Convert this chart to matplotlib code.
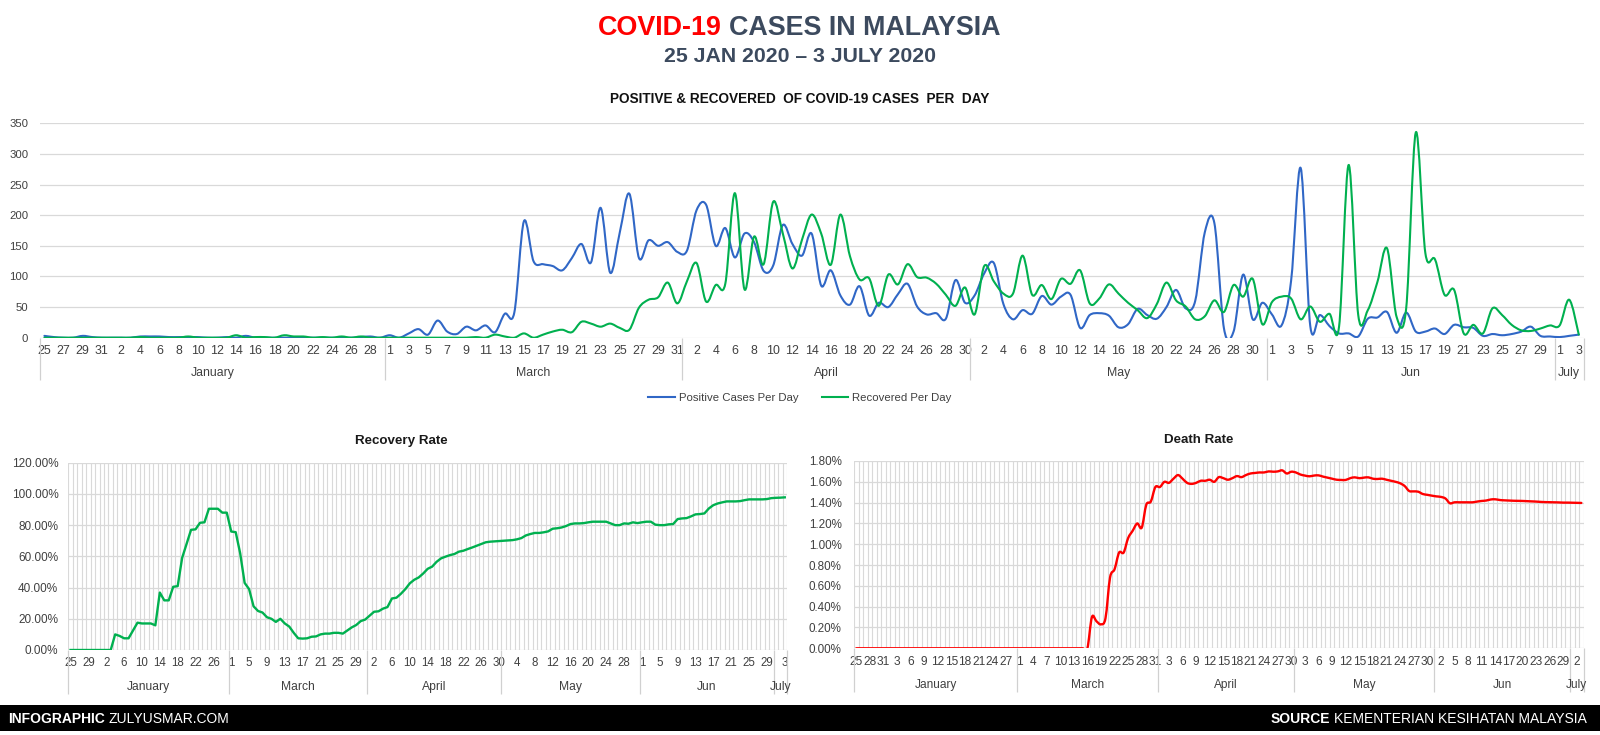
import numpy as np
import pandas as pd
import matplotlib
matplotlib.use("Agg")
import matplotlib.pyplot as plt
from matplotlib.path import Path
from matplotlib.patches import PathPatch, Rectangle
from matplotlib.lines import Line2D
import matplotlib.ticker as mticker

plt.rcParams['font.family'] = ['Liberation Sans', 'DejaVu Sans']

# ---------------- data ----------------
start_date = "2020-01-25"
end_date = "2020-07-03"
month_groups = ["January", "March", "April", "May", "Jun", "July"]
month_group_sizes = [36, 31, 30, 31, 30, 3]

pos_jan = [3, 1, 0, 0, 3, 1, 0]
pos_feb = [0, 0, 0, 2, 2, 2, 1, 1, 1, 1,
           0, 0, 1, 0, 3, 0, 0, 0, 0, 0,
           0, 0, 0, 0, 0, 0, 1, 2, 0]
pos_mar = [4, 0, 7, 14, 5, 28, 10, 6, 18, 12,
           20, 9, 39, 41, 190, 125, 120, 117, 110, 130,
           153, 123, 212, 106, 172, 235, 130, 159, 150, 156, 140]
pos_apr = [142, 208, 217, 150, 179, 131, 170, 156, 109, 118,
           184, 153, 134, 170, 85, 110, 69, 54, 84, 36,
           57, 50, 71, 88, 51, 38, 40, 31, 94, 57]
pos_may = [69, 105, 122, 55, 30, 45, 39, 68, 54, 67,
           70, 16, 37, 40, 36, 17, 22, 47, 37, 31,
           50, 78, 48, 60, 172, 187, 15, 10, 103, 30, 57]
pos_jun = [38, 20, 93, 277, 19, 37, 19, 7, 7, 2,
           31, 33, 42, 8, 41, 10, 10, 15, 6, 21,
           17, 16, 3, 6, 4, 6, 10, 18, 3, 2]
pos_jul = [1, 3, 5]
positive = pos_jan + pos_feb + pos_mar + pos_apr + pos_may + pos_jun + pos_jul

rec_jan = [0, 0, 0, 0, 0, 0, 0]
rec_feb = [0, 0, 0, 1, 0, 0, 0, 0, 2, 0,
           0, 0, 0, 4, 0, 1, 1, 0, 4, 2,
           2, 0, 1, 0, 2, 0, 2, 0, 0]
rec_mar = [0, 0, 0, 0, 0, 0, 0, 0, 0, 1,
           0, 5, 2, 0, 7, 0, 5, 10, 13, 9,
           26, 23, 18, 23, 16, 13, 49, 62, 66, 90, 56]
rec_apr = [92, 122, 59, 86, 88, 236, 79, 165, 120, 222,
           170, 113, 160, 201, 170, 119, 201, 133, 95, 97,
           52, 103, 87, 120, 99, 98, 88, 70, 52, 82]
rec_may = [38, 117, 92, 72, 72, 134, 70, 86, 63, 96,
           88, 110, 56, 64, 87, 72, 57, 45, 32, 55,
           90, 61, 51, 30, 35, 61, 42, 86, 67, 96, 22]
rec_jun = [58, 67, 64, 30, 51, 26, 39, 18, 282, 37,
           45, 91, 146, 34, 48, 335, 138, 128, 70, 78,
           7, 21, 7, 48, 37, 21, 12, 11, 15, 20]
rec_jul = [20, 62, 5]
recovered = rec_jan + rec_feb + rec_mar + rec_apr + rec_may + rec_jun + rec_jul

recovery_rate_pct = [0, 0, 0, 0, 0, 0, 0, 0, 0, 0,
                     10, 9, 7.5, 7.5, 12.5, 17.5, 17, 17, 17, 15.8,
                     36.8, 31.8, 31.8, 40.5, 40.9, 59, 68, 77, 77.3, 81.5,
                     81.8, 90.5, 90.5, 90.5, 88, 88, 75.9, 75.5, 62, 43,
                     39, 28, 25, 24, 21, 20, 18, 20, 17, 15,
                     11, 7.5, 7.3, 7.5, 8.5, 8.7, 10, 10.5, 10.5, 11,
                     11, 10.5, 12.5, 14.5, 16, 18.5, 19.5, 22, 24.5, 24.8,
                     26.5, 27.5, 33, 33.5, 36, 39, 42.7, 45, 46.5, 49,
                     52, 53.4, 56.5, 58.7, 59.8, 60.8, 61.5, 63, 63.6, 64.7,
                     65.7, 66.8, 67.9, 69, 69.4, 69.6, 69.8, 70, 70.2, 70.4,
                     70.9, 71.7, 73.4, 74.3, 75, 75, 75.4, 76, 77.7, 78,
                     78.5, 79.4, 80.7, 81.1, 81.1, 81.3, 81.8, 82.2, 82.2, 82.2,
                     82.2, 81.1, 80, 80, 81.1, 80.9, 81.8, 81.3, 81.8, 82.2,
                     82.2, 80.3, 80, 80, 80.5, 80.7, 83.9, 84.3, 84.5, 85.6,
                     86.9, 87.1, 87.5, 90.7, 92.8, 93.9, 94.6, 95.2, 95.2, 95.2,
                     95.4, 96, 96.5, 96.5, 96.5, 96.5, 96.7, 97.3, 97.5, 97.6, 97.8]

death_rate_pct = [0] * 52 + [
    0.30, 0.26, 0.23, 0.29, 0.68, 0.76, 0.92, 0.92,
    1.06, 1.13, 1.20, 1.16, 1.38, 1.41, 1.55, 1.55, 1.60, 1.59,
    1.63, 1.665, 1.63, 1.59, 1.58, 1.59, 1.61, 1.61, 1.62, 1.60,
    1.645, 1.635, 1.62, 1.635, 1.655, 1.645, 1.665, 1.68, 1.685, 1.69,
    1.69, 1.70, 1.697, 1.70, 1.71, 1.68, 1.697, 1.69, 1.67, 1.66,
    1.653, 1.66, 1.662, 1.65, 1.64, 1.63, 1.62, 1.618, 1.618, 1.635,
    1.643, 1.635, 1.64, 1.643, 1.63, 1.627, 1.63, 1.62, 1.61, 1.60,
    1.586, 1.56, 1.512, 1.508, 1.505, 1.483, 1.475, 1.467, 1.46, 1.455,
    1.44, 1.394, 1.403, 1.403, 1.403, 1.403, 1.403, 1.41, 1.416, 1.42,
    1.43, 1.432, 1.425, 1.422, 1.42, 1.418, 1.417, 1.416, 1.414, 1.412,
    1.41, 1.407, 1.405, 1.404, 1.403, 1.402, 1.40, 1.40, 1.399, 1.398, 1.397]

# ---------------- style ----------------
BLUE = '#3067c6'
GREEN = '#00b04f'
RED = '#ff0000'
TITLE_C = '#3c4a5e'
TXT = '#404040'
GRID = '#d9d9d9'
SEP = '#d0d0d0'

dates = pd.date_range(start_date, end_date, freq="D")
day_labels = [str(d.day) for d in dates]
n = len(dates)
x = np.arange(n)
for nm, arr in [("positive", positive), ("recovered", recovered),
                ("recovery", recovery_rate_pct), ("death", death_rate_pct)]:
    if len(arr) != n:
        raise ValueError(f"{nm} has {len(arr)} values, expected {n}")

W, H = 1600, 735
fig = plt.figure(figsize=(16, 7.35), dpi=100)
fig.patch.set_facecolor('white')


def fax(l, t, r, b):
    return fig.add_axes([l / W, 1 - b / H, (r - l) / W, (b - t) / H])


def smooth_path(xs, ys):
    pts = np.column_stack([np.asarray(xs, float), np.asarray(ys, float)])
    ext = np.vstack([pts[0], pts, pts[-1]])
    verts = [pts[0]]
    codes = [Path.MOVETO]
    for i in range(len(pts) - 1):
        p0, p1, p2, p3 = ext[i], ext[i + 1], ext[i + 2], ext[i + 3]
        verts += [p1 + (p2 - p0) / 6.0, p2 - (p3 - p1) / 6.0, p2]
        codes += [Path.CURVE4] * 3
    return Path(verts, codes)


def category_axis(ax, step, tick_fs, month_fs, tick_pad_px, month_off_px, sep_px, ax_h_px):
    ax.set_xlim(-0.5, n - 0.5)
    ticks = x[::step]
    ax.set_xticks(ticks)
    ax.set_xticklabels([day_labels[i] for i in ticks], fontsize=tick_fs, color=TXT)
    ax.tick_params(axis='x', which='major', length=0, pad=tick_pad_px * 0.72)
    bounds = np.concatenate([[0], np.cumsum(month_group_sizes)]) - 0.5
    trans = ax.get_xaxis_transform()
    for b in bounds:
        ax.plot([b, b], [0, -sep_px / ax_h_px], transform=trans, color=SEP, lw=0.9,
                clip_on=False, solid_capstyle='butt')
    for name, lo, hi in zip(month_groups, bounds[:-1], bounds[1:]):
        ax.text((lo + hi) / 2, -month_off_px / ax_h_px, name, transform=trans,
                ha='center', va='center', fontsize=month_fs, color=TXT)


# ---------------- top chart ----------------
ax1 = fax(39.6, 123.3, 1583.6, 337.7)
for s in ax1.spines.values():
    s.set_visible(False)
ax1.set_ylim(0, 350)
ax1.set_yticks(np.arange(0, 351, 50))
ax1.yaxis.grid(True, color=GRID, lw=0.9)
ax1.set_axisbelow(True)
ax1.tick_params(axis='y', length=0, pad=11.4 * 0.72, labelsize=8.2, labelcolor=TXT)
category_axis(ax1, 2, 8.9, 8.8, 7.6, 35.5, 42, 214.4)
ax1.add_patch(PathPatch(smooth_path(x, positive), fill=False, edgecolor=BLUE, lw=1.5,
                        joinstyle='round', capstyle='round'))
ax1.add_patch(PathPatch(smooth_path(x, recovered), fill=False, edgecolor=GREEN, lw=1.5,
                        joinstyle='round', capstyle='round'))

fig.legend(handles=[Line2D([], [], color=BLUE, lw=1.5), Line2D([], [], color=GREEN, lw=1.5)],
           labels=["Positive Cases Per Day", "Recovered Per Day"],
           loc='center', bbox_to_anchor=(0.5, 1 - 398 / H), ncol=2, frameon=False,
           fontsize=8.2, handlelength=2.3, handletextpad=0.4, columnspacing=2.0,
           labelcolor=TXT)

# ---------------- recovery rate ----------------
ax2 = fax(68.3, 462.7, 787, 650)
for s in ax2.spines.values():
    s.set_visible(False)
ax2.set_ylim(0, 120)
ax2.set_yticks(np.arange(0, 121, 20))
ax2.yaxis.set_major_formatter(mticker.FuncFormatter(lambda v, p: f"{v:.2f}%"))
ax2.yaxis.grid(True, color=GRID, lw=0.9)
ax2.set_xticks(np.arange(n + 1) - 0.5, minor=True)
ax2.xaxis.grid(True, which='minor', color=GRID, lw=0.8)
ax2.tick_params(axis='x', which='minor', length=0)
ax2.tick_params(axis='y', length=0, pad=10 * 0.72, labelsize=8.5, labelcolor=TXT)
ax2.set_axisbelow(True)
category_axis(ax2, 4, 8.3, 8.7, 7.4, 37, 44, 187.3)
ax2.plot(x, recovery_rate_pct, color=GREEN, lw=1.7, solid_joinstyle='round')

# ---------------- death rate ----------------
ax3 = fax(854, 461, 1583.6, 648.3)
for s in ax3.spines.values():
    s.set_visible(False)
ax3.set_ylim(0, 1.8)
ax3.set_yticks(np.arange(0, 1.81, 0.2))
ax3.yaxis.set_major_formatter(mticker.FuncFormatter(lambda v, p: f"{v:.2f}%"))
ax3.yaxis.grid(True, color=GRID, lw=0.9)
ax3.set_xticks(np.arange(n + 1) - 0.5, minor=True)
ax3.xaxis.grid(True, which='minor', color=GRID, lw=0.8)
ax3.tick_params(axis='x', which='minor', length=0)
ax3.tick_params(axis='y', length=0, pad=12.3 * 0.72, labelsize=8.4, labelcolor=TXT)
ax3.set_axisbelow(True)
category_axis(ax3, 3, 8.6, 8.6, 8.0, 36.7, 44, 187.3)
ax3.add_patch(PathPatch(smooth_path(x, death_rate_pct), fill=False, edgecolor=RED, lw=1.7,
                        joinstyle='round', capstyle='round'))

# ---------------- titles ----------------
renderer = fig.canvas.get_renderer()


def runs(x_px, base_px, parts, ha='center', fs=10):
    objs = []
    widths = []
    for s, props in parts:
        t = fig.text(0, 0, s, fontsize=fs, va='baseline', ha='left', **props)
        widths.append(t.get_window_extent(renderer).width)
        objs.append(t)
    space = fs / 72 * 100 * 0.278
    total = sum(widths) + space * (len(parts) - 1)
    if ha == 'center':
        x0 = x_px - total / 2
    elif ha == 'right':
        x0 = x_px - total
    else:
        x0 = x_px
    for t, w in zip(objs, widths):
        t.set_position((x0 / W, 1 - base_px / H))
        x0 += w + space


runs(799, 34.8, [("COVID-19", dict(color=RED, fontweight='bold')),
                 ("CASES IN MALAYSIA", dict(color=TITLE_C, fontweight='bold'))], fs=19.4)
fig.text(800 / W, 1 - 62 / H, "25 JAN 2020 \u2013 3 JULY 2020", ha='center', va='baseline',
         fontsize=15.3, fontweight='bold', color=TITLE_C)
fig.text(800 / W, 1 - 103 / H, "POSITIVE & RECOVERED  OF COVID-19 CASES  PER  DAY", ha='center',
         va='baseline', fontsize=9.8, fontweight='bold', color='#111111')
fig.text(401.5 / W, 1 - 444 / H, "Recovery Rate", ha='center', va='baseline', fontsize=9.6,
         fontweight='bold', color='#1a1a1a')
fig.text(1199 / W, 1 - 443 / H, "Death Rate", ha='center', va='baseline', fontsize=9.6,
         fontweight='bold', color='#1a1a1a')

# ---------------- footer ----------------
fig.add_artist(Rectangle((0, 1 - 731 / H), 1, 26 / H, transform=fig.transFigure,
                         facecolor='black', edgecolor='none'))
runs(8, 723.3, [("INFOGRAPHIC", dict(color='white', fontweight='bold')),
                ("ZULYUSMAR.COM", dict(color='white'))], ha='left', fs=10)
runs(1587, 723.3, [("SOURCE", dict(color='white', fontweight='bold')),
                   ("KEMENTERIAN KESIHATAN MALAYSIA", dict(color='white'))], ha='right', fs=10)

fig.savefig("out.png", dpi=100, facecolor='white')
